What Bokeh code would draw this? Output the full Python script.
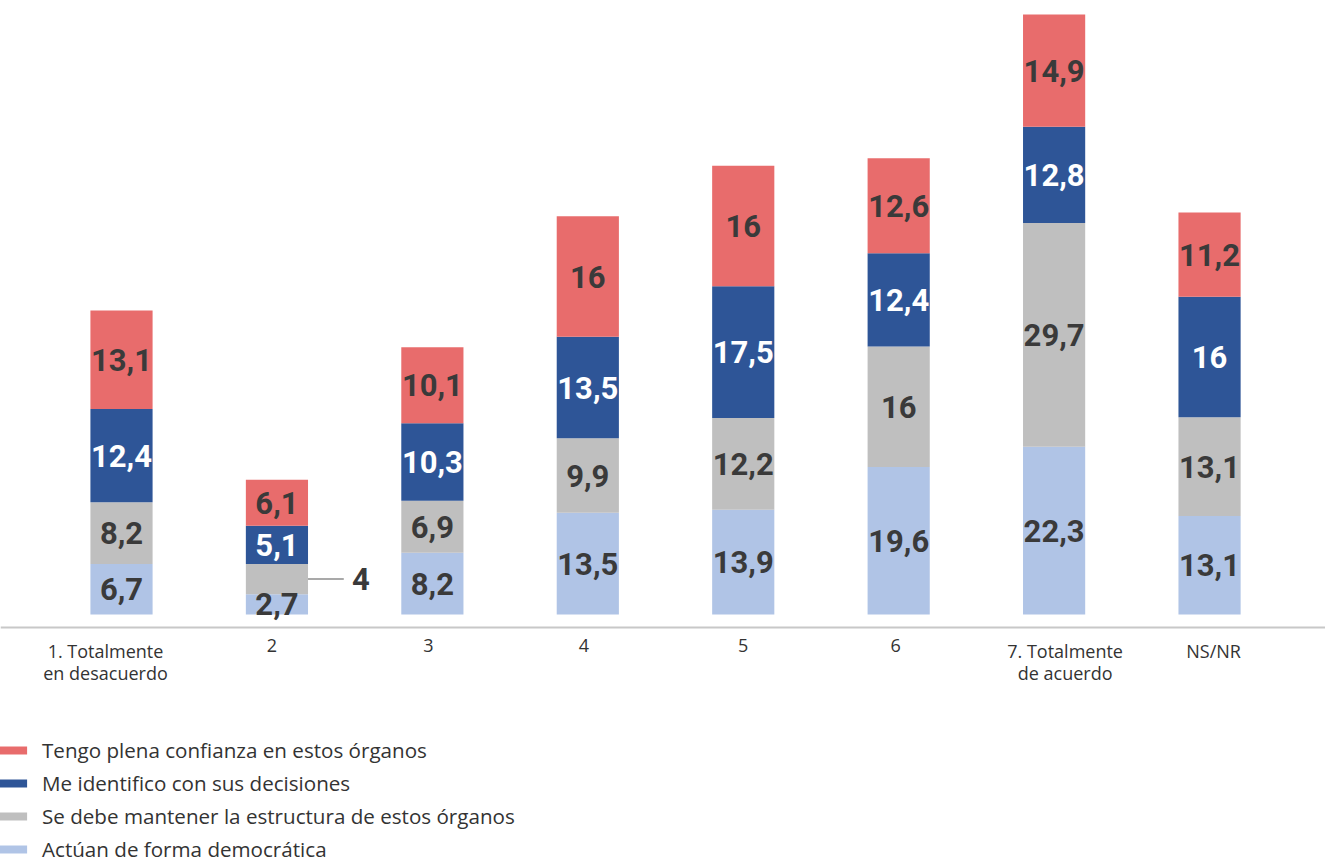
from bokeh.plotting import figure
from bokeh.models import ColumnDataSource, Range1d, Legend, LegendItem, Span
from bokeh.core.properties import value
from bokeh.embed import file_html
from bokeh.resources import INLINE

categories = ["1. Totalmente\nen desacuerdo", "2", "3", "4", "5", "6", "7. Totalmente\nde acuerdo", "NS/NR"]
democratica = [6.7, 2.7, 8.2, 13.5, 13.9, 19.6, 22.3, 13.1]
estructura = [8.2, 4.0, 6.9, 9.9, 12.2, 16.0, 29.7, 13.1]
identifico = [12.4, 5.1, 10.3, 13.5, 17.5, 12.4, 12.8, 16.0]
confianza = [13.1, 6.1, 10.1, 16.0, 16.0, 12.6, 14.9, 11.2]

series_keys = ["democratica", "estructura", "identifico", "confianza"]
series_names = ["Actúan de forma democrática",
                "Se debe mantener la estructura de estos órganos",
                "Me identifico con sus decisiones",
                "Tengo plena confianza en estos órganos"]
series_colors = ["#B0C4E6", "#BFBFBF", "#2E5597", "#E86C6C"]
label_colors = ["#3A3A3A", "#3A3A3A", "#FFFFFF", "#3A3A3A"]
# segment whose label is drawn outside with a leader line: (series index, category index)
callouts = [(1, 1)]
# horizontal nudges (px) of the category labels, as in the original layout
cat_label_nudge = [-16, -5, -4, -4, 0, -3, 11, 4]

xs = list(range(len(categories)))
data = dict(x=xs, democratica=democratica, estructura=estructura,
            identifico=identifico, confianza=confianza)
source = ColumnDataSource(data)

LABEL_FONT = value("Roboto")
TEXT_FONT = value("Open Sans")

p = figure(frame_width=1325, frame_height=859, output_backend="svg",
           toolbar_location=None, x_range=Range1d(-0.7785, 7.746),
           y_range=Range1d(-32.55, 81.57), x_axis_location=None,
           y_axis_location=None, min_border=0, outline_line_color=None)
p.xgrid.grid_line_color = None
p.ygrid.grid_line_color = None

renderers = p.vbar_stack(series_keys, x="x", width=0.4, source=source,
                         color=series_colors, line_color=None)

# category axis: line just below the baseline and labels under it
p.add_layout(Span(location=-1.727, dimension="width", line_color="#C8C8C8",
                  line_width=2))
csrc_cat = ColumnDataSource(dict(x=xs, y=[-3.3] * len(xs), t=categories,
                                 dx=cat_label_nudge))
p.text(x="x", y="y", text="t", x_offset="dx", source=csrc_cat,
       text_font=TEXT_FONT, text_font_size="18px", text_color="#333333",
       text_align="center", text_baseline="top", text_line_height=0.92)

# value labels
lx, ly, lt, lc = [], [], [], []
cx, cy, ct = [], [], []
for i in xs:
    base = 0.0
    for s, key in enumerate(series_keys):
        v = data[key][i]
        mid = base + v / 2
        txt = ("%g" % v).replace(".", ",")
        if (s, i) in callouts:
            cx.append(i)
            cy.append(mid)
            ct.append(txt)
        else:
            lx.append(i)
            ly.append(mid)
            lt.append(txt)
            lc.append(label_colors[s])
        base += v

lsrc = ColumnDataSource(dict(x=lx, y=ly, t=lt, c=lc))
p.text(x="x", y="y", text="t", source=lsrc, text_color="c",
       text_font=LABEL_FONT, text_font_style="bold", text_font_size="31px",
       text_align="center", text_baseline="middle")

csrc = ColumnDataSource(dict(x0=[x + 0.2 for x in cx], x1=[x + 0.43 for x in cx],
                             y=cy, xt=[x + 0.54 for x in cx], t=ct))
p.segment(x0="x0", y0="y", x1="x1", y1="y", source=csrc,
          line_color="#8C8C8C", line_width=1.5)
p.text(x="xt", y="y", text="t", source=csrc, text_color="#3A3A3A",
       text_font=LABEL_FONT, text_font_style="bold", text_font_size="31px",
       text_align="center", text_baseline="middle")

items = [LegendItem(label=series_names[s], renderers=[renderers[s]]) for s in [3, 2, 1, 0]]
legend = Legend(items=items, location=(-4, -4), orientation="vertical",
                glyph_width=34, glyph_height=10, label_height=28, spacing=5,
                label_standoff=12, padding=0, margin=0,
                label_text_font="Open Sans", label_text_font_size="20.6px",
                label_text_color="#333333", border_line_color=None,
                background_fill_alpha=0)
p.add_layout(legend, "center")

open("out.html", "w").write(file_html(p, INLINE))
